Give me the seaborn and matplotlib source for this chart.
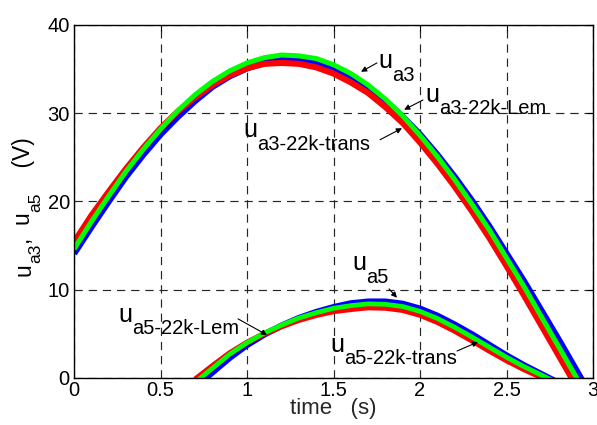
import matplotlib
matplotlib.use('Agg')
import matplotlib.pyplot as plt
from matplotlib.transforms import IdentityTransform
import seaborn as sns

# time axis (s)
t3 = [0.0, 0.1, 0.2, 0.3, 0.4, 0.5, 0.6, 0.7, 0.8, 0.9, 1.0, 1.1, 1.2, 1.3, 1.4, 1.5,
      1.6, 1.7, 1.8, 1.9, 2.0, 2.1, 2.2, 2.3, 2.4, 2.5, 2.6, 2.7, 2.8, 2.9, 3.0]
t5 = [0.7, 0.8, 0.9, 1.0, 1.1, 1.2, 1.3, 1.4, 1.5, 1.6, 1.7, 1.8, 1.9, 2.0, 2.1, 2.2,
      2.3, 2.4, 2.5, 2.6, 2.7, 2.8]

# 3rd harmonic voltages (V)
ua3 = [14.6, 17.7, 20.6, 23.4, 25.9, 28.2, 30.3, 32.1, 33.6, 34.8, 35.7, 36.3, 36.6, 36.5,
       36.2, 35.5, 34.5, 33.2, 31.6, 29.7, 27.5, 25.1, 22.5, 19.7, 16.8, 13.6, 10.4, 7.0,
       3.6, 0.2, -3.2]
ua3_lem = [14.1, 17.1, 20.0, 22.8, 25.3, 27.6, 29.6, 31.4, 33.0, 34.2, 35.1, 35.7, 36.1, 36.1,
           35.7, 35.1, 34.2, 33.0, 31.4, 29.6, 27.6, 25.3, 22.8, 20.1, 17.2, 14.1, 11.0, 7.7,
           4.4, 1.0, -2.4]
ua3_trans = [15.4, 18.4, 21.1, 23.7, 26.1, 28.3, 30.2, 31.8, 33.2, 34.3, 35.1, 35.6, 35.7, 35.6,
             35.2, 34.5, 33.5, 32.3, 30.7, 28.9, 26.7, 24.3, 21.7, 18.9, 15.9, 12.7, 9.4, 6.0,
             2.6, -0.8, -4.2]

# 5th harmonic voltages (V)
ua5 = [-0.5, 1.1, 2.7, 4.0, 5.1, 6.0, 6.8, 7.4, 7.9, 8.2, 8.4, 8.35, 8.1, 7.55, 6.75, 5.75,
       4.65, 3.5, 2.35, 1.3, 0.35, -0.6]
ua5_lem = [-1.0, 0.64, 2.30, 3.74, 4.94, 5.93, 6.79, 7.47, 8.02, 8.45, 8.65, 8.65, 8.4, 7.85,
           7.05, 6.05, 4.95, 3.75, 2.55, 1.45, 0.45, -0.55]
ua5_trans = [-0.17, 1.35, 2.81, 4.01, 5.02, 5.85, 6.57, 7.13, 7.56, 7.8, 8.0, 7.95, 7.7, 7.15,
             6.35, 5.35, 4.25, 3.1, 2.0, 1.0, 0.1, -0.8]

xticks = [0, 0.5, 1, 1.5, 2, 2.5, 3]
xticklabels = ['0', '0.5', '1', '1.5', '2', '2.5', '3']
yticks = [0, 10, 20, 30, 40]

sns.set_style('white')
plt.rcParams['font.family'] = ['Liberation Sans', 'DejaVu Sans']

DPI = 100
fig = plt.figure(figsize=(5.97, 4.25), dpi=DPI)
ax = fig.add_axes([0.124, 0.1106, 0.8693, 0.8306])

# draw order: blue first, then red, green on top
sns.lineplot(x=t3, y=ua3_lem, color='#0000ff', lw=4.6, ax=ax, solid_capstyle='butt')
sns.lineplot(x=t3, y=ua3_trans, color='#ff0000', lw=4.4, ax=ax, solid_capstyle='butt')
sns.lineplot(x=t3, y=ua3, color='#00ff00', lw=3.6, ax=ax, solid_capstyle='butt')
sns.lineplot(x=t5, y=ua5_lem, color='#0000ff', lw=4.6, ax=ax, solid_capstyle='butt')
sns.lineplot(x=t5, y=ua5_trans, color='#ff0000', lw=4.2, ax=ax, solid_capstyle='butt')
sns.lineplot(x=t5, y=ua5, color='#00ff00', lw=3.4, ax=ax, solid_capstyle='butt')

ax.set_xlim(0, 3)
ax.set_ylim(0, 40)
ax.set_xticks(xticks)
ax.set_xticklabels(xticklabels)
ax.set_yticks(yticks)
ax.tick_params(direction='in', length=4, width=0.8, labelsize=14.5, colors='k',
               top=True, right=True)
ax.tick_params(axis='x', pad=2)
ax.tick_params(axis='y', pad=3)
ax.grid(True, color='0.15', lw=0.85, linestyle=(0, (7, 5)))
for s in ax.spines.values():
    s.set_color('k')
    s.set_linewidth(1.0)

ax.set_xlabel('time   (s)', fontsize=16, labelpad=-1)

renderer = fig.canvas.get_renderer()


def rich(x, y, pieces, rotation=0):
    # pieces of (text, fontsize, drop in points), laid one after another
    if rotation == 0:
        dx, dy, px, py = 1, 0, 0, -1
    else:
        dx, dy, px, py = 0, 1, 1, 0
    cx, cy = x, y
    for s, fs, drop in pieces:
        d = drop * DPI / 72
        t = fig.text(cx + px * d, cy + py * d, s, fontsize=fs, rotation=rotation,
                     rotation_mode='anchor', ha='left', va='baseline',
                     transform=IdentityTransform(), color='k')
        bb = t.get_window_extent(renderer)
        w = bb.width if rotation == 0 else bb.height
        cx += dx * w
        cy += dy * w


def label(t, v, sub):
    x, y = ax.transData.transform((t, v))
    rich(x, y, [('u', 18, 0), (sub, 14.5, 9)])


# y label, rotated
rich(30, 425 - 276, [('u', 16.5, 0), ('a3', 12.5, 7.5), (',  u', 16.5, 0),
                     ('a5', 12.5, 7.5), ('    (V)', 16.5, 0)], rotation=90)

label(1.757, 35.1, 'a3')
label(2.03, 31.3, 'a3-22k-Lem')
label(0.977, 27.3, 'a3-22k-trans')
label(1.607, 12.2, 'a5')
label(1.48, 2.95, 'a5-22k-trans')
label(0.254, 6.35, 'a5-22k-Lem')

arrow = dict(arrowstyle='-|>', color='k', lw=0.8, mutation_scale=8, shrinkA=0, shrinkB=0)
ax.annotate('', xy=(1.659, 34.7), xytext=(1.751, 35.7), arrowprops=arrow)
ax.annotate('', xy=(1.908, 30.4), xytext=(2.017, 31.5), arrowprops=arrow)
ax.annotate('', xy=(1.896, 28.3), xytext=(1.769, 27.0), arrowprops=arrow)
ax.annotate('', xy=(1.867, 9.1), xytext=(1.821, 10.1), arrowprops=arrow)
ax.annotate('', xy=(2.335, 4.08), xytext=(2.214, 3.06), arrowprops=arrow)
ax.annotate('', xy=(1.116, 4.87), xytext=(0.948, 6.7), arrowprops=arrow)

fig.savefig('out.png', dpi=DPI)
